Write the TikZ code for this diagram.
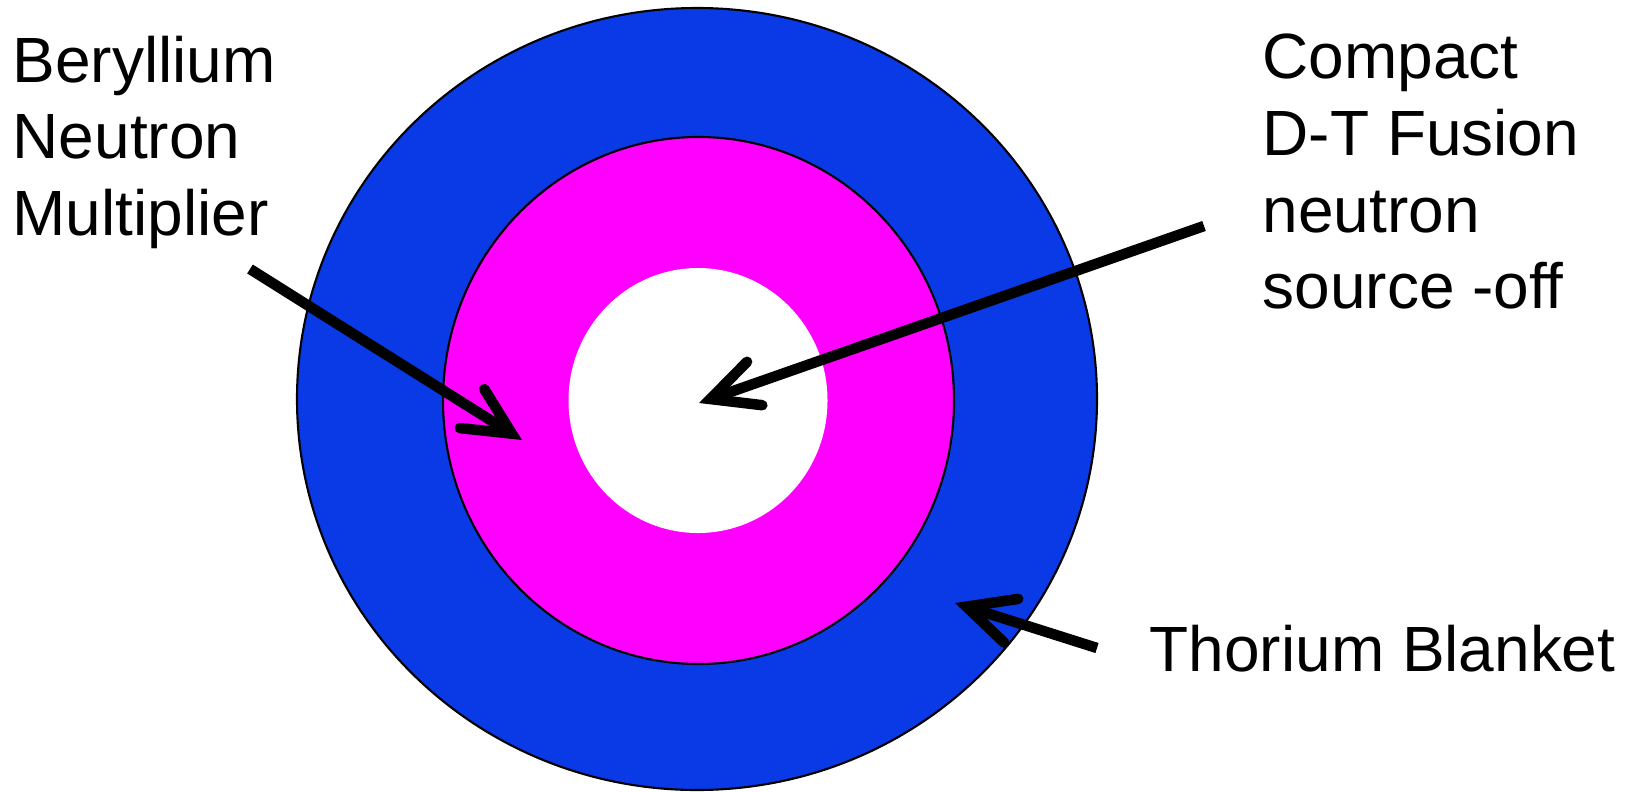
\documentclass[tikz,border=0pt]{standalone}
\usepackage{fontspec}
\setmainfont{Liberation Sans}
\usepackage{xcolor}
\usepackage{tikz}
\usetikzlibrary{arrows.meta}
\definecolor{blu}{HTML}{0A3AE6}
\definecolor{magenta}{HTML}{FF00FF}

\tikzset{
  ring/.style={draw=black, line width=0.6pt},
  pointer/.style={line width=3pt, line cap=butt,
    -{Straight Barb[length=4.7mm, width=4.6mm, line cap=round, line join=miter]}},
  label/.style={inner sep=0pt, font=\fontsize{18.2}{21.8}\selectfont}
}

\begin{document}
\begin{tikzpicture}
  \useasboundingbox (0,0) rectangle (16.32,-7.91);
  % Thorium blanket (outer ring)
  \filldraw[ring, fill=blu] (6.97,-3.99) ellipse (4.00cm and 3.91cm);
  % Beryllium multiplier (middle ring)
  \filldraw[ring, fill=magenta] (6.985,-4.005) ellipse (2.555cm and 2.635cm);
  % Source region
  \fill[white] (6.98,-4.005) ellipse (1.295cm and 1.325cm);
  % Labels
  \node[label, anchor=north west, align=left] (beryl) at (0.12,-0.35)
    {Beryllium\\Neutron\\Multiplier};
  \node[label, anchor=north west, align=left] (source) at (12.62,-0.335)
    {Compact\\D-T Fusion\\neutron\\source -off};
  \node[label, anchor=base west] (blanket) at (11.49,-6.71) {Thorium Blanket};
  % Arrow ends
  \coordinate (berytail) at (2.50,-2.69);
  \coordinate (berytip) at (5.22,-4.40);
  \coordinate (srctail) at (12.04,-2.26);
  \coordinate (srctip) at (6.99,-4.03);
  \coordinate (blkttail) at (10.97,-6.48);
  \coordinate (blkttip) at (9.55,-6.03);
  % Arrows
  \draw[pointer] (berytail) -- (berytip);
  \draw[pointer] (srctail) -- (srctip);
  \draw[pointer] (blkttail) -- (blkttip);
\end{tikzpicture}
\end{document}
